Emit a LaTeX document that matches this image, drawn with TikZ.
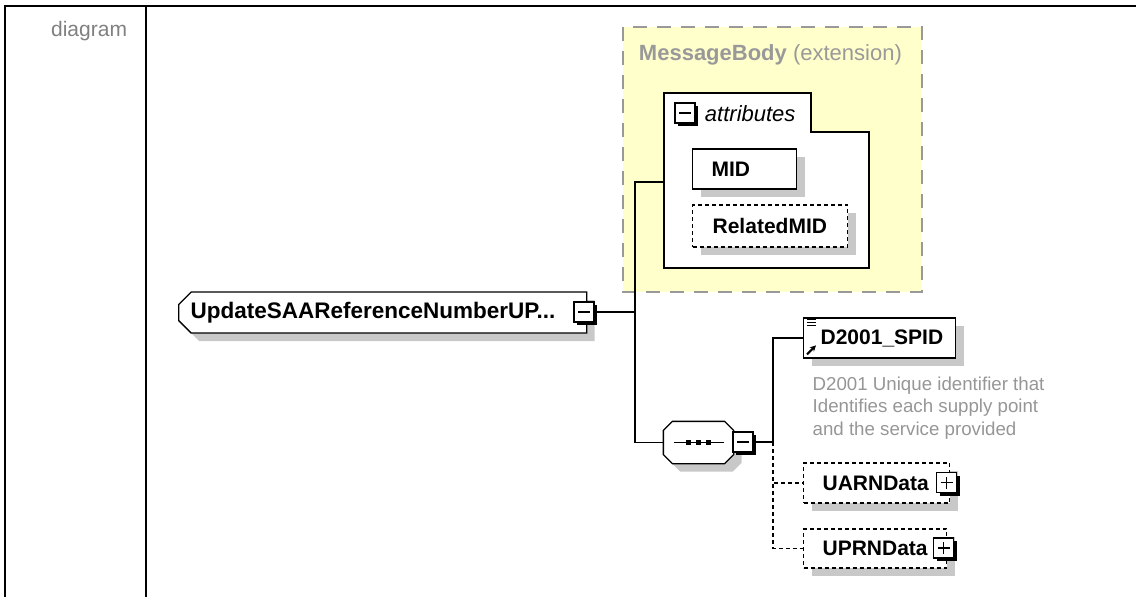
\documentclass[tikz,border=0pt]{standalone}
\usepackage{fontspec}
\setmainfont{Liberation Sans}
\usetikzlibrary{shapes.misc,shadows,arrows.meta}
\definecolor{extfill}{RGB}{255,255,204}
\definecolor{extline}{RGB}{153,153,153}
\definecolor{shade}{RGB}{200,200,200}
\definecolor{note}{RGB}{150,150,150}
\begin{document}
\begin{tikzpicture}[x=1pt, y=-1pt, line width=1.3pt,
    namefont/.style={font=\fontsize{21}{24}\selectfont\bfseries},
    softshadow/.style={drop shadow={shadow xshift=8pt, shadow yshift=-8pt, fill=shade, opacity=1, draw=none}},
    box/.style={draw, fill=white, namefont, inner ysep=0pt, minimum height=40pt, align=left, anchor=west, softshadow},
    optbox/.style={box, dash pattern=on 4pt off 3pt},
    elembox/.style={box, chamfered rectangle, chamfered rectangle xsep=9pt},
    expander/.style={draw, fill=white, inner sep=0pt, minimum size=20pt, line width=1.2pt,
        drop shadow={shadow xshift=3pt, shadow yshift=-3pt, fill=black, opacity=1}},
    minus/.style={expander, path picture={
        \draw[line width=1.2pt] ([xshift=4pt]path picture bounding box.west) -- ([xshift=-4pt]path picture bounding box.east);}},
    plus/.style={expander, path picture={
        \draw[line width=1.2pt] ([xshift=4pt]path picture bounding box.west) -- ([xshift=-4pt]path picture bounding box.east);
        \draw[line width=1.2pt] ([yshift=4pt]path picture bounding box.south) -- ([yshift=-4pt]path picture bounding box.north);}}]
\useasboundingbox (0,0) rectangle (1136,597);

% table frame
\draw[line width=2pt] (5,597) -- (5,6) -- (1136,6);
\draw[line width=2pt] (146,6) -- (146,597);
\node[anchor=east, text=gray, font=\fontsize{21}{24}\selectfont] (lbl) at (131,31) {diagram};

% extension base
\draw[fill=extfill, draw=extline, line width=2pt, dash pattern=on 14pt off 10pt] (623,27) rectangle (922,292);
\node[anchor=west, text=extline, font=\fontsize{22}{24}\selectfont] (extlbl) at (635,55) {\textbf{MessageBody} (extension)};

% attributes group
\draw[fill=white] (664,93) -- (811,93) -- (811,132) -- (869,132) -- (869,268) -- (664,268) -- cycle;
\node[minus] (attx) at (685,113) {};
\node[anchor=west, font=\fontsize{22}{24}\selectfont\itshape] (attlbl) at (701,114) {attributes};
\coordinate (attin) at (664,182);
\node[box, inner xsep=19pt, text width=66pt] (mid) at (692,169) {MID};
\node[optbox, inner xsep=20pt, text width=115pt, minimum height=42pt] (relmid) at (692,226) {RelatedMID};

% root element
\node[elembox, chamfered rectangle corners={north west,south west}, inner xsep=3pt, text width=384pt, minimum height=41pt,
    font=\fontsize{22.5}{24}\selectfont\bfseries] (upd) at (178,312.5) {UpdateSAAReferenceNumberUP...};
\node[minus] (updx) at (584,312) {};
\coordinate (j1) at (635,312);
\draw (updx.east) -- (j1) |- (attin);

% sequence
\node[minimum width=69pt, minimum height=41pt, inner sep=0pt] (seq) at (698.5,442.5) {};
\draw[fill=white, softshadow] ([xshift=9pt]seq.north west) -- ([xshift=-9pt]seq.north east) -- ([yshift=-9pt]seq.north east)
    -- ([yshift=9pt]seq.south east) -- ([xshift=-9pt]seq.south east) -- ([xshift=9pt]seq.south west)
    -- ([yshift=9pt]seq.south west) -- ([yshift=-9pt]seq.north west) -- cycle;
\draw ([xshift=-25pt]seq.center) -- ([xshift=25pt]seq.center);
\foreach \d in {-10,0,10}
    \fill ([xshift=\d pt]seq.center) +(-2.6,-2.6) rectangle +(2.6,2.6);
\node[minus] (seqx) at (743,442) {};
\draw (j1) |- (seq.west);
\coordinate (j2) at (773,442);

% children
\node[box, inner xsep=17pt, text width=118pt] (spid) at (803,338) {D2001\_SPID};
\draw[line width=1.2pt] \foreach \t in {2.5,5.5,8.5} {([shift={(4,\t)}]spid.north west) -- ++(9,0)};
\draw[-{Stealth[length=6pt,width=6pt]}, line width=2pt] ([shift={(4,37)}]spid.north west) -- ++(9,-9);
\node[anchor=north west, align=left, inner sep=0pt, text=note, font=\fontsize{18.7}{22.5}\selectfont] (spiddoc) at (812,376)
    {D2001 Unique identifier that\\Identifies each supply point\\and the service provided};
\node[optbox, inner xsep=19pt, text width=108pt] (uarn) at (803,483) {UARNData};
\node[plus] (uarnx) at (946.5,482.5) {};
\node[optbox, inner xsep=19pt, text width=105pt, minimum height=39pt] (uprn) at (803,548.5) {UPRNData};
\node[plus] (uprnx) at (943.5,548) {};

\draw (seqx.east) -- (j2) |- (spid.west);
\draw[dash pattern=on 4pt off 3pt] (j2) |- (uarn.west);
\draw[dash pattern=on 4pt off 3pt] (j2) |- (uprn.west);
\end{tikzpicture}
\end{document}
